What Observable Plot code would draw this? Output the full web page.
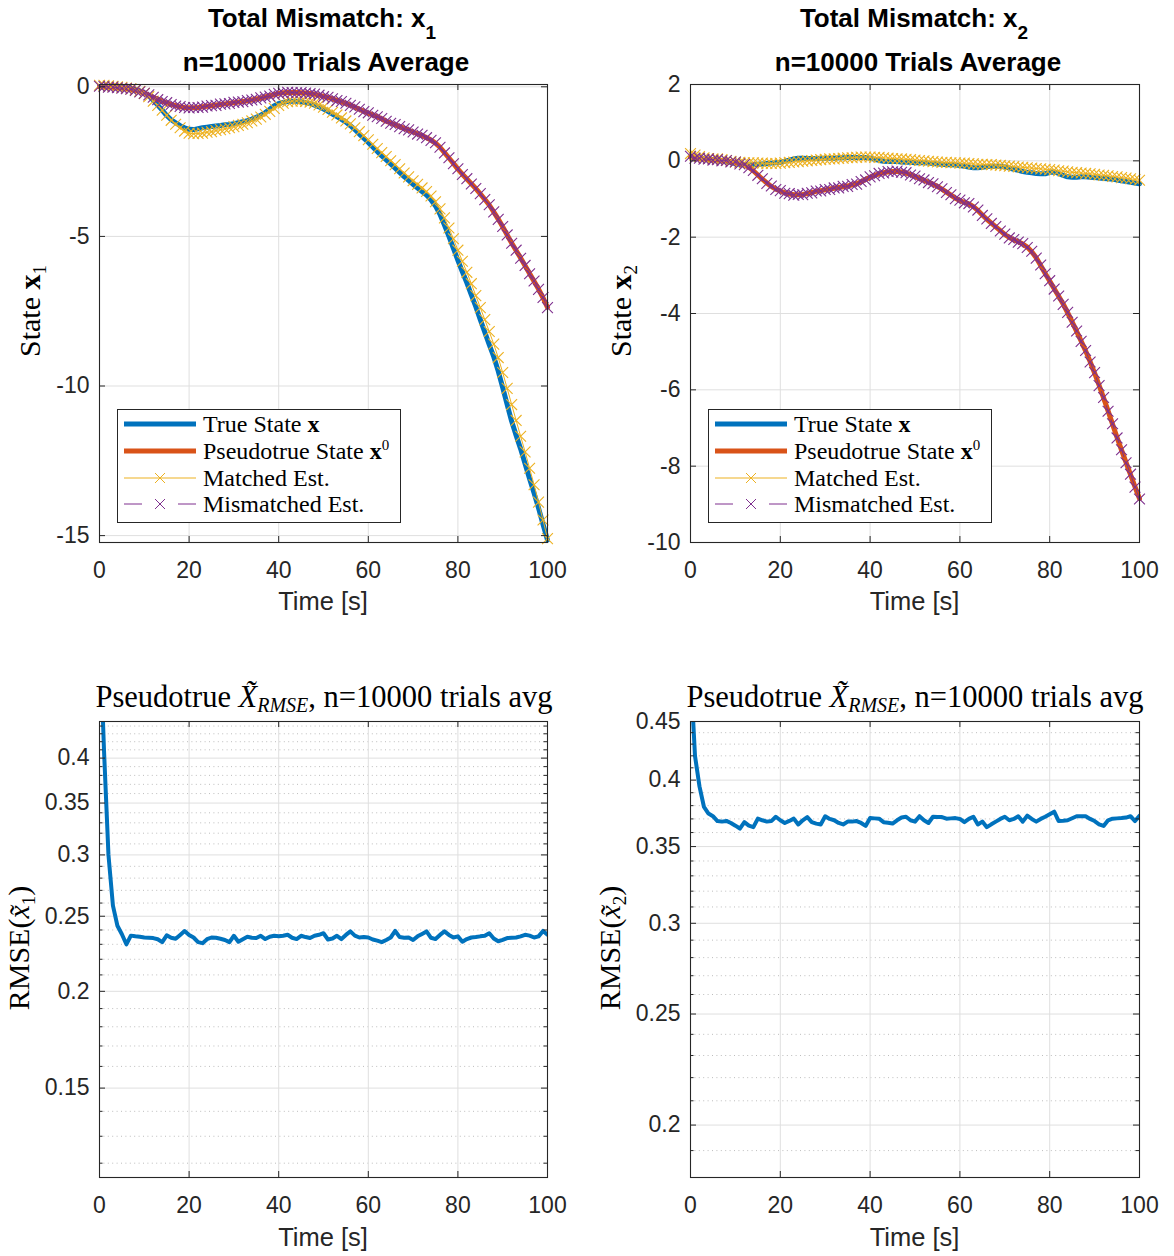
<!DOCTYPE html>
<html>
<head>
<meta charset="utf-8">
<script src="https://cdn.jsdelivr.net/npm/d3@7"></script>
<script src="https://cdn.jsdelivr.net/npm/@observablehq/plot@0.6"></script>
<style>
  body { margin: 0; background: #fff; }
  #root { position: relative; width: 1174px; height: 1256px; overflow: hidden; background: #fff; }
  #root svg { max-width: none; }
</style>
</head>
<body>
<div id="root"></div>
<script>
// ---------- data ----------
const time = [
  0,1,2,3,4,5,6,7,8,9,
  10,11,12,13,14,15,16,17,18,19,
  20,21,22,23,24,25,26,27,28,29,
  30,31,32,33,34,35,36,37,38,39,
  40,41,42,43,44,45,46,47,48,49,
  50,51,52,53,54,55,56,57,58,59,
  60,61,62,63,64,65,66,67,68,69,
  70,71,72,73,74,75,76,77,78,79,
  80,81,82,83,84,85,86,87,88,89,
  90,91,92,93,94,95,96,97,98,99,
  100];

const trueX1 = [
  0, 0, -0.01, -0.02, -0.03, -0.04, -0.05, -0.07, -0.10, -0.14,
  -0.20, -0.30, -0.45, -0.61, -0.78, -0.96, -1.10, -1.20, -1.30, -1.37,
  -1.42, -1.43, -1.40, -1.37, -1.35, -1.33, -1.31, -1.29, -1.27, -1.26,
  -1.23, -1.20, -1.17, -1.13, -1.08, -1.02, -0.95, -0.86, -0.75, -0.63,
  -0.56, -0.52, -0.49, -0.48, -0.48, -0.50, -0.53, -0.56, -0.61, -0.67,
  -0.74, -0.82, -0.91, -1.00, -1.09, -1.18, -1.30, -1.43, -1.58, -1.72,
  -1.86, -2.01, -2.16, -2.31, -2.44, -2.58, -2.72, -2.86, -3.00, -3.13,
  -3.26, -3.38, -3.50, -3.62, -3.78, -3.98, -4.26, -4.62, -5.00, -5.40,
  -5.80, -6.18, -6.55, -6.95, -7.35, -7.78, -8.20, -8.62, -9.02, -9.50,
  -10.05, -10.62, -11.18, -11.65, -12.10, -12.60, -13.10, -13.58, -14.08, -14.62,
  -15.15];

const pseudoX1 = [
  0, 0, -0.01, -0.02, -0.03, -0.04, -0.06, -0.09, -0.12, -0.16,
  -0.21, -0.28, -0.35, -0.42, -0.48, -0.54, -0.59, -0.63, -0.67, -0.69,
  -0.70, -0.70, -0.69, -0.67, -0.65, -0.63, -0.61, -0.59, -0.57, -0.55,
  -0.53, -0.51, -0.49, -0.47, -0.44, -0.41, -0.38, -0.34, -0.30, -0.26,
  -0.22, -0.20, -0.19, -0.19, -0.19, -0.20, -0.21, -0.22, -0.25, -0.28,
  -0.32, -0.36, -0.40, -0.45, -0.50, -0.55, -0.61, -0.68, -0.75, -0.82,
  -0.88, -0.94, -1.00, -1.07, -1.15, -1.21, -1.27, -1.33, -1.39, -1.45,
  -1.51, -1.57, -1.63, -1.70, -1.78, -1.88, -2.02, -2.20, -2.38, -2.56,
  -2.75, -2.92, -3.08, -3.24, -3.40, -3.58, -3.76, -3.95, -4.18, -4.42,
  -4.68, -4.95, -5.22, -5.47, -5.72, -5.98, -6.24, -6.50, -6.76, -7.05,
  -7.37];

const matchedX1 = [
  0.05, 0.05, 0.03, 0.02, 0.0, -0.02, -0.04, -0.07, -0.10, -0.15,
  -0.22, -0.33, -0.48, -0.62, -0.78, -0.95, -1.12, -1.25, -1.37, -1.48,
  -1.55, -1.57, -1.56, -1.55, -1.52, -1.50, -1.46, -1.43, -1.40, -1.37,
  -1.33, -1.29, -1.25, -1.20, -1.14, -1.08, -1.01, -0.92, -0.82, -0.72,
  -0.62, -0.55, -0.50, -0.48, -0.47, -0.47, -0.49, -0.51, -0.55, -0.61,
  -0.68, -0.76, -0.85, -0.94, -1.04, -1.14, -1.24, -1.37, -1.50, -1.63,
  -1.77, -1.92, -2.06, -2.20, -2.33, -2.47, -2.60, -2.74, -2.88, -3.01,
  -3.14, -3.26, -3.38, -3.50, -3.65, -3.84, -4.08, -4.38, -4.72, -5.08,
  -5.46, -5.83, -6.20, -6.58, -6.98, -7.38, -7.78, -8.18, -8.60, -9.05,
  -9.55, -10.08, -10.62, -11.15, -11.68, -12.20, -12.75, -13.30, -13.88, -14.48,
  -15.10];

const mismatchedX1 = [
  0.02, 0.01, -0.01, -0.01, -0.03, -0.05, -0.06, -0.08, -0.12, -0.17,
  -0.22, -0.27, -0.35, -0.43, -0.49, -0.53, -0.59, -0.64, -0.66, -0.69,
  -0.71, -0.69, -0.69, -0.68, -0.64, -0.63, -0.62, -0.58, -0.57, -0.56,
  -0.52, -0.51, -0.50, -0.46, -0.44, -0.42, -0.37, -0.34, -0.31, -0.25,
  -0.22, -0.21, -0.18, -0.19, -0.20, -0.19, -0.21, -0.23, -0.24, -0.28,
  -0.33, -0.35, -0.40, -0.46, -0.49, -0.55, -0.62, -0.67, -0.75, -0.83,
  -0.87, -0.95, -1.00, -1.06, -1.15, -1.22, -1.26, -1.33, -1.40, -1.44,
  -1.51, -1.58, -1.62, -1.70, -1.79, -1.87, -2.02, -2.21, -2.37, -2.57,
  -2.74, -2.93, -3.07, -3.25, -3.40, -3.57, -3.77, -3.94, -4.18, -4.43,
  -4.67, -4.95, -5.23, -5.46, -5.73, -5.97, -6.25, -6.49, -6.77, -7.04,
  -7.38];

const trueX2 = [
  0.10, 0.09, 0.07, 0.05, 0.04, 0.03, 0.02, 0.01, -0.01, -0.04,
  -0.07, -0.09, -0.10, -0.10, -0.10, -0.09, -0.08, -0.07, -0.06, -0.05,
  -0.04, -0.01, 0.02, 0.05, 0.07, 0.07, 0.06, 0.06, 0.06, 0.07,
  0.07, 0.07, 0.07, 0.08, 0.08, 0.09, 0.09, 0.09, 0.09, 0.09,
  0.07, 0.04, 0.01, -0.01, -0.02, -0.02, -0.02, -0.03, -0.04, -0.04,
  -0.05, -0.05, -0.05, -0.06, -0.07, -0.08, -0.09, -0.10, -0.10, -0.11,
  -0.12, -0.14, -0.16, -0.18, -0.18, -0.17, -0.15, -0.14, -0.14, -0.14,
  -0.16, -0.19, -0.22, -0.25, -0.28, -0.30, -0.31, -0.33, -0.34, -0.34,
  -0.30, -0.29, -0.33, -0.38, -0.42, -0.43, -0.43, -0.42, -0.42, -0.43,
  -0.44, -0.45, -0.46, -0.47, -0.48, -0.50, -0.52, -0.54, -0.56, -0.58,
  -0.60];

const pseudoX2 = [
  0.10, 0.08, 0.06, 0.05, 0.04, 0.03, 0.02, 0.01, 0.00, -0.02,
  -0.04, -0.07, -0.11, -0.17, -0.26, -0.37, -0.48, -0.58, -0.67, -0.74,
  -0.79, -0.84, -0.87, -0.89, -0.89, -0.88, -0.86, -0.83, -0.80, -0.78,
  -0.76, -0.74, -0.72, -0.70, -0.68, -0.66, -0.63, -0.60, -0.55, -0.49,
  -0.43, -0.38, -0.34, -0.31, -0.29, -0.28, -0.28, -0.29, -0.32, -0.36,
  -0.41, -0.46, -0.51, -0.56, -0.61, -0.67, -0.74, -0.82, -0.90, -0.98,
  -1.04, -1.09, -1.13, -1.20, -1.30, -1.42, -1.53, -1.63, -1.73, -1.83,
  -1.93, -2.01, -2.07, -2.12, -2.18, -2.26, -2.38, -2.54, -2.74, -2.95,
  -3.15, -3.35, -3.55, -3.75, -3.98, -4.22, -4.47, -4.72, -4.98, -5.26,
  -5.56, -5.88, -6.21, -6.55, -6.90, -7.25, -7.58, -7.90, -8.22, -8.54,
  -8.85];

const matchedX2 = [
  0.19, 0.15, 0.11, 0.08, 0.06, 0.05, 0.05, 0.03, 0.01, -0.01,
  -0.03, -0.04, -0.05, -0.05, -0.05, -0.06, -0.06, -0.07, -0.07, -0.07,
  -0.06, -0.05, -0.04, -0.03, -0.02, -0.01, 0.00, 0.01, 0.02, 0.03,
  0.04, 0.05, 0.05, 0.06, 0.07, 0.08, 0.08, 0.09, 0.10, 0.10,
  0.10, 0.09, 0.09, 0.08, 0.07, 0.06, 0.05, 0.05, 0.04, 0.03,
  0.02, 0.01, 0.00, -0.01, -0.02, -0.03, -0.04, -0.04, -0.05, -0.05,
  -0.06, -0.06, -0.07, -0.08, -0.09, -0.09, -0.10, -0.10, -0.11, -0.12,
  -0.13, -0.14, -0.15, -0.16, -0.17, -0.18, -0.19, -0.20, -0.21, -0.22,
  -0.23, -0.24, -0.26, -0.27, -0.29, -0.30, -0.31, -0.32, -0.33, -0.34,
  -0.35, -0.37, -0.38, -0.39, -0.41, -0.42, -0.44, -0.45, -0.47, -0.49,
  -0.51];

const mismatchedX2 = [
  0.12, 0.07, 0.07, 0.04, 0.05, 0.02, 0.03, 0.00, 0.01, -0.03,
  -0.03, -0.08, -0.10, -0.18, -0.25, -0.38, -0.47, -0.59, -0.66, -0.75,
  -0.78, -0.85, -0.86, -0.90, -0.88, -0.89, -0.85, -0.84, -0.79, -0.79,
  -0.75, -0.75, -0.71, -0.71, -0.67, -0.67, -0.62, -0.61, -0.54, -0.50,
  -0.42, -0.39, -0.33, -0.32, -0.28, -0.29, -0.27, -0.30, -0.31, -0.37,
  -0.40, -0.47, -0.50, -0.57, -0.60, -0.68, -0.73, -0.83, -0.89, -0.99,
  -1.03, -1.10, -1.12, -1.21, -1.29, -1.43, -1.52, -1.64, -1.72, -1.84,
  -1.92, -2.02, -2.06, -2.13, -2.17, -2.27, -2.37, -2.55, -2.73, -2.96,
  -3.14, -3.36, -3.54, -3.76, -3.97, -4.23, -4.46, -4.73, -4.97, -5.27,
  -5.55, -5.89, -6.20, -6.56, -6.89, -7.26, -7.57, -7.91, -8.21, -8.55,
  -8.86];

const rmseX1 = [
  0.60, 0.41, 0.30, 0.258, 0.243, 0.237, 0.230, 0.236, 0.2355, 0.2352,
  0.2347, 0.2345, 0.2343, 0.2335, 0.2315, 0.2362, 0.2345, 0.2338, 0.2365, 0.2393,
  0.2365, 0.2347, 0.2315, 0.2308, 0.2335, 0.2347, 0.2345, 0.2338, 0.2330, 0.2315,
  0.2359, 0.2318, 0.2335, 0.2352, 0.2345, 0.2343, 0.2359, 0.2336, 0.2352, 0.2359,
  0.2355, 0.2359, 0.2366, 0.2345, 0.2336, 0.2359, 0.2350, 0.2343, 0.2359, 0.2366,
  0.2377, 0.2333, 0.2340, 0.2359, 0.2336, 0.2365, 0.2390, 0.2360, 0.2347, 0.2350,
  0.2347, 0.2333, 0.2325, 0.2315, 0.2330, 0.2347, 0.2393, 0.2350, 0.2345, 0.2347,
  0.2330, 0.2355, 0.2372, 0.2390, 0.2345, 0.2336, 0.2365, 0.2390, 0.2365, 0.2347,
  0.2355, 0.2318, 0.2336, 0.2347, 0.2350, 0.2355, 0.2359, 0.2377, 0.2340, 0.2321,
  0.2330, 0.2343, 0.2345, 0.2347, 0.2355, 0.2366, 0.2360, 0.2347, 0.2355, 0.2393,
  0.2366];

const rmseX2 = [
  0.50, 0.42, 0.395, 0.379, 0.374, 0.372, 0.3684, 0.368, 0.3685, 0.367,
  0.365, 0.3629, 0.3676, 0.365, 0.3639, 0.3702, 0.369, 0.368, 0.3684, 0.3716,
  0.369, 0.367, 0.3685, 0.3702, 0.3659, 0.369, 0.3714, 0.3676, 0.3665, 0.3659,
  0.372, 0.370, 0.369, 0.367, 0.3659, 0.368, 0.368, 0.3684, 0.367, 0.3648,
  0.3706, 0.3704, 0.3702, 0.3676, 0.3672, 0.3666, 0.369, 0.371, 0.3716, 0.369,
  0.368, 0.372, 0.369, 0.367, 0.3716, 0.3715, 0.3714, 0.3702, 0.3704, 0.3706,
  0.3700, 0.3676, 0.370, 0.3716, 0.3659, 0.368, 0.3639, 0.366, 0.368, 0.370,
  0.3716, 0.369, 0.370, 0.372, 0.368, 0.3724, 0.370, 0.368, 0.370, 0.3716,
  0.3735, 0.3754, 0.3684, 0.3686, 0.369, 0.3705, 0.372, 0.372, 0.372, 0.370,
  0.3684, 0.366, 0.3648, 0.369, 0.3702, 0.3704, 0.3706, 0.371, 0.372, 0.3684,
  0.3724];

// ticks
const xTicks = [0, 20, 40, 60, 80, 100];
const yTicksX1 = [0, -5, -10, -15];
const yTicksX2 = [2, 0, -2, -4, -6, -8, -10];
const yTicksRmse1 = [0.15, 0.2, 0.25, 0.3, 0.35, 0.4];
const yMinorRmse1 = [0.12, 0.13, 0.14, 0.16, 0.17, 0.18, 0.19, 0.21, 0.22, 0.23, 0.24,
  0.26, 0.27, 0.28, 0.29, 0.31, 0.32, 0.33, 0.34, 0.36, 0.37, 0.38, 0.39, 0.41, 0.42, 0.43, 0.44];
const yTicksRmse2 = [0.2, 0.25, 0.3, 0.35, 0.4, 0.45];
const yMinorRmse2 = [0.19, 0.21, 0.22, 0.23, 0.24, 0.26, 0.27, 0.28, 0.29,
  0.31, 0.32, 0.33, 0.34, 0.36, 0.37, 0.38, 0.39, 0.41, 0.42, 0.43, 0.44];

// ---------- drawing ----------
const C = {blue: "#0072BD", red: "#D95319", yellow: "#EDB120", purple: "#7E2F8E",
           axis: "#262626", grid: "#dfdfdf", minor: "#bdbdbd"};
const root = document.getElementById("root");

function panel(o) {
  const mL = 75, mR = 35, mT = 15, mB = 55;
  const w = o.right - o.left, h = o.bottom - o.top;
  const tk = 6, mtk = 3.5;
  const marks = [];
  if (o.yMinor) marks.push(Plot.ruleY(o.yMinor, {y: d => d, stroke: C.minor, strokeDasharray: "1,3.4"}));
  marks.push(Plot.ruleX(xTicks, {x: d => d, stroke: C.grid}));
  marks.push(Plot.ruleY(o.yTicks, {y: d => d, stroke: C.grid}));
  marks.push(...o.marks);
  marks.push(Plot.frame({stroke: C.axis, strokeWidth: 1.1}));
  marks.push(Plot.ruleX(xTicks, {x: d => d, insetTop: h - tk, stroke: C.axis}));
  marks.push(Plot.ruleX(xTicks, {x: d => d, insetBottom: h - tk, stroke: C.axis}));
  marks.push(Plot.ruleY(o.yTicks, {y: d => d, insetRight: w - tk, stroke: C.axis}));
  marks.push(Plot.ruleY(o.yTicks, {y: d => d, insetLeft: w - tk, stroke: C.axis}));
  if (o.yMinor) {
    marks.push(Plot.ruleY(o.yMinor, {y: d => d, insetRight: w - mtk, stroke: C.axis}));
    marks.push(Plot.ruleY(o.yMinor, {y: d => d, insetLeft: w - mtk, stroke: C.axis}));
  }
  const svg = Plot.plot({
    width: w + mL + mR, height: h + mT + mB,
    marginLeft: mL, marginRight: mR, marginTop: mT, marginBottom: mB,
    style: {fontFamily: "'Liberation Sans', Arial, Helvetica, sans-serif", fontSize: "23px",
            color: C.axis, background: "transparent", overflow: "visible"},
    x: {domain: [0, 100], ticks: xTicks, tickSize: 0, tickPadding: 19, label: null, tickFormat: d => String(d)},
    y: {type: o.yType || "linear", domain: o.yDomain, ticks: o.yTicks, tickSize: 0, tickPadding: 10,
        label: null, tickFormat: d => String(d)},
    marks
  });
  svg.style.position = "absolute";
  svg.style.left = (o.left - mL) + "px";
  svg.style.top = (o.top - mT) + "px";
  root.appendChild(svg);
}

function stateMarks(rows) {
  return [
    Plot.line(rows, {x: "t", y: "tr", stroke: C.blue, strokeWidth: 5}),
    Plot.line(rows, {x: "t", y: "ps", stroke: C.red, strokeWidth: 5}),
    Plot.line(rows, {x: "t", y: "ma", stroke: C.yellow, strokeWidth: 1}),
    Plot.dot(rows, {x: "t", y: "ma", symbol: "times", r: 5, stroke: C.yellow, strokeWidth: 1.1}),
    Plot.line(rows, {x: "t", y: "mi", stroke: C.purple, strokeWidth: 1, strokeDasharray: "9,6"}),
    Plot.dot(rows, {x: "t", y: "mi", symbol: "times", r: 5, stroke: C.purple, strokeWidth: 1.1})
  ];
}

const rows1 = time.map((t, i) => ({t, tr: trueX1[i], ps: pseudoX1[i], ma: matchedX1[i], mi: mismatchedX1[i]}));
const rows2 = time.map((t, i) => ({t, tr: trueX2[i], ps: pseudoX2[i], ma: matchedX2[i], mi: mismatchedX2[i]}));
const rowsR1 = time.map((t, i) => ({t, v: rmseX1[i]}));
const rowsR2 = time.map((t, i) => ({t, v: rmseX2[i]}));

panel({left: 99, right: 547, top: 84, bottom: 542, yDomain: [-15.23, 0.077], yTicks: yTicksX1, marks: stateMarks(rows1)});
panel({left: 690, right: 1139, top: 84, bottom: 542, yDomain: [-10, 2], yTicks: yTicksX2, marks: stateMarks(rows2)});
panel({left: 99, right: 547, top: 721, bottom: 1177, yType: "log", yDomain: [0.115, 0.446],
       yTicks: yTicksRmse1, yMinor: yMinorRmse1,
       marks: [Plot.line(rowsR1, {x: "t", y: "v", stroke: C.blue, strokeWidth: 4, clip: true})]});
panel({left: 690, right: 1139, top: 721, bottom: 1177, yType: "log", yDomain: [0.18, 0.45],
       yTicks: yTicksRmse2, yMinor: yMinorRmse2,
       marks: [Plot.line(rowsR2, {x: "t", y: "v", stroke: C.blue, strokeWidth: 4, clip: true})]});

// ---------- text, legends ----------
function legend(x0, y0) {
  const rows = [424, 451, 478, 504].map(y => y - 409 + y0);
  const X = x0 + 7, X2 = x0 + 79, XM = x0 + 43, TX = x0 + 86;
  const cross = (cx, cy, col) => `<path d="M${cx-5},${cy-5}L${cx+5},${cy+5}M${cx-5},${cy+5}L${cx+5},${cy-5}" stroke="${col}" stroke-width="1" fill="none"/>`;
  return `
  <rect x="${x0+0.5}" y="${y0+0.5}" width="283" height="113" fill="#fff" stroke="${C.axis}" stroke-width="1"/>
  <line x1="${X}" x2="${X2}" y1="${rows[0]}" y2="${rows[0]}" stroke="${C.blue}" stroke-width="5"/>
  <line x1="${X}" x2="${X2}" y1="${rows[1]}" y2="${rows[1]}" stroke="${C.red}" stroke-width="5"/>
  <line x1="${X}" x2="${X2}" y1="${rows[2]}" y2="${rows[2]}" stroke="${C.yellow}" stroke-width="1"/>
  ${cross(XM, rows[2], C.yellow)}
  <line x1="${X}" x2="${X+18}" y1="${rows[3]}" y2="${rows[3]}" stroke="${C.purple}" stroke-width="1"/>
  <line x1="${X2-18}" x2="${X2}" y1="${rows[3]}" y2="${rows[3]}" stroke="${C.purple}" stroke-width="1"/>
  ${cross(XM, rows[3], C.purple)}
  <g font-family="'Liberation Serif','Times New Roman',serif" font-size="24" fill="#000">
    <text x="${TX}" y="${rows[0]+8}">True State <tspan font-weight="bold">x</tspan></text>
    <text x="${TX}" y="${rows[1]+8}">Pseudotrue State <tspan font-weight="bold">x</tspan><tspan font-size="15" dy="-9">0</tspan></text>
    <text x="${TX}" y="${rows[2]+8}">Matched Est.</text>
    <text x="${TX}" y="${rows[3]+8}">Mismatched Est.</text>
  </g>`;
}

const sans = "'Liberation Sans', Arial, Helvetica, sans-serif";
const serif = "'Liberation Serif', 'Times New Roman', serif";
const overlay = `
<svg width="1174" height="1256" style="position:absolute;left:0;top:0;overflow:visible" xmlns="http://www.w3.org/2000/svg">
  <g font-family="${sans}" font-weight="bold" font-size="26" fill="#000" text-anchor="middle">
    <text x="322" y="27">Total Mismatch: x<tspan font-size="19" dy="12">1</tspan></text>
    <text x="326" y="71">n=10000 Trials Average</text>
    <text x="914" y="27">Total Mismatch: x<tspan font-size="19" dy="12">2</tspan></text>
    <text x="918" y="71">n=10000 Trials Average</text>
  </g>
  <g font-family="${sans}" font-size="25.5" fill="${C.axis}" text-anchor="middle">
    <text x="323" y="610">Time [s]</text>
    <text x="914.5" y="610">Time [s]</text>
    <text x="323" y="1246">Time [s]</text>
    <text x="914.5" y="1246">Time [s]</text>
  </g>
  <g font-family="${serif}" font-size="30" fill="#000" text-anchor="middle">
    <text transform="translate(40,311) rotate(-90)">State <tspan font-weight="bold">x</tspan><tspan font-size="19" dy="6">1</tspan></text>
    <text transform="translate(631,311) rotate(-90)">State <tspan font-weight="bold">x</tspan><tspan font-size="19" dy="6">2</tspan></text>
    <text transform="translate(29,948) rotate(-90)">RMSE(<tspan font-style="italic">x̃</tspan><tspan font-size="19" dy="6">1</tspan><tspan dy="-6">)</tspan></text>
    <text transform="translate(620,948) rotate(-90)">RMSE(<tspan font-style="italic">x̃</tspan><tspan font-size="19" dy="6">2</tspan><tspan dy="-6">)</tspan></text>
  </g>
  <g font-family="${serif}" font-size="30.5" fill="#000" text-anchor="middle">
    <text x="324" y="707">Pseudotrue <tspan font-style="italic">X̃</tspan><tspan font-style="italic" font-size="20" dy="5">RMSE</tspan><tspan dy="-5">, n=10000 trials avg</tspan></text>
    <text x="915" y="707">Pseudotrue <tspan font-style="italic">X̃</tspan><tspan font-style="italic" font-size="20" dy="5">RMSE</tspan><tspan dy="-5">, n=10000 trials avg</tspan></text>
  </g>
  ${legend(117, 409)}
  ${legend(708, 409)}
</svg>`;
root.insertAdjacentHTML("beforeend", overlay);
</script>
</body>
</html>
